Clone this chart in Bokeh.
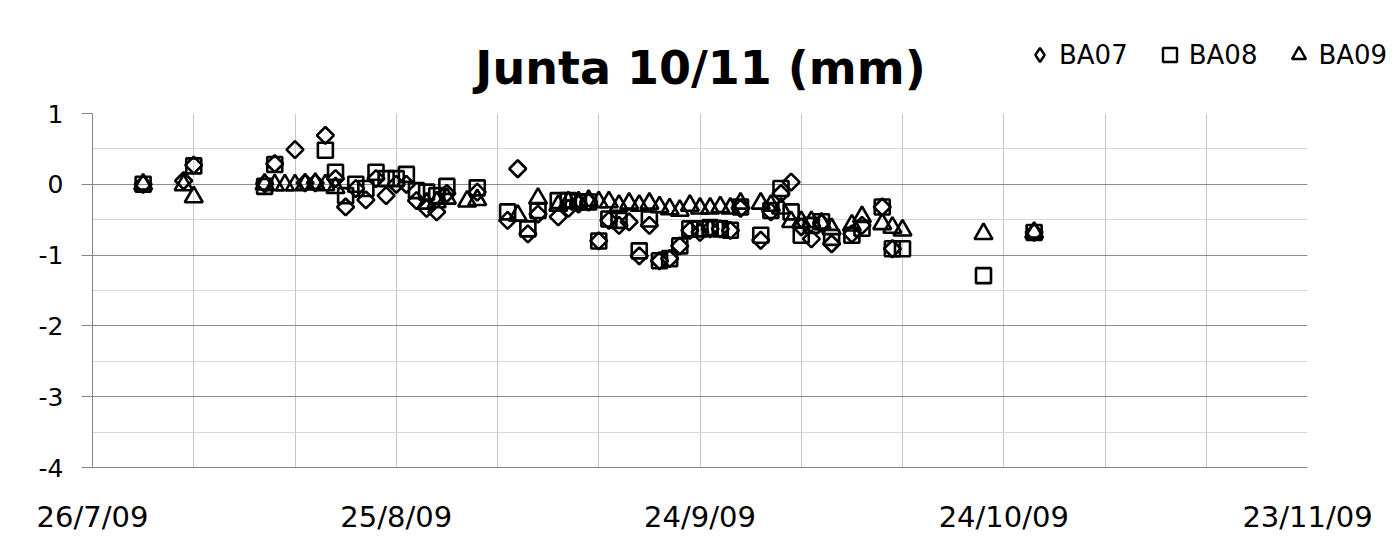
import math
from bokeh.plotting import figure
from bokeh.models import FixedTicker, Legend, LegendItem, ColumnDataSource, Range1d
from bokeh.core.properties import value
from bokeh.embed import file_html
from bokeh.resources import INLINE

# days since 26/7/09
days = [5, 9, 10, 17, 18, 19, 20, 21, 22, 23, 24, 25, 26, 27, 28, 29, 30, 31, 32, 33,
        34, 35, 37, 38, 41, 42, 43, 44, 46, 47, 48, 49, 50, 51, 52, 53, 54, 55, 56, 57,
        58, 59, 60, 61, 62, 63, 64, 66, 67, 68, 69, 70, 71, 72, 73, 75, 76, 78, 79, 80,
        88, 93]
ba07 = [0.0, 0.05, 0.27, 0.01, 0.29, None, 0.49, 0.02, 0.02, 0.69, 0.08, -0.32, -0.06, -0.22, 0.08, -0.16, 0.0, 0.0, -0.23, -0.34,
        -0.39, -0.13, None, -0.11, -0.51, 0.22, -0.70, -0.42, -0.46, -0.34, -0.28, -0.25, -0.80, -0.51, -0.58, -0.53, -1.01, -0.58, -1.08, -1.05,
        -0.87, -0.65, -0.68, -0.63, -0.63, -0.65, -0.34, -0.79, -0.39, -0.13, 0.03, -0.60, -0.77, -0.55, -0.84, -0.70, -0.58, -0.32, -0.91, None,
        None, -0.68]
ba08 = [0.0, None, 0.26, -0.03, 0.28, None, None, None, None, 0.48, 0.17, -0.16, 0.0, -0.06, 0.17, 0.08, 0.08, 0.14, -0.09, -0.11,
        -0.16, -0.03, None, -0.05, -0.39, None, -0.63, -0.37, -0.23, -0.23, -0.25, -0.25, -0.80, -0.49, -0.51, None, -0.94, -0.49, -1.08, -1.05,
        -0.87, -0.63, -0.63, -0.61, -0.63, -0.65, -0.32, -0.72, -0.37, -0.06, -0.39, -0.72, -0.58, -0.53, -0.75, -0.72, -0.62, -0.32, -0.91, -0.91,
        -1.29, -0.68]
ba09 = [0.0, -0.01, -0.18, 0.0, -0.01, -0.01, -0.01, 0.0, 0.01, -0.01, -0.05, None, None, None, None, None, None, None, None, -0.27,
        -0.25, -0.20, -0.24, -0.22, None, -0.44, None, -0.20, -0.30, -0.25, -0.25, -0.23, -0.25, -0.25, -0.30, -0.27, -0.30, -0.27, -0.32, -0.35,
        -0.37, -0.30, -0.34, -0.34, -0.32, -0.34, -0.27, -0.27, -0.30, -0.34, -0.53, -0.53, -0.53, -0.55, -0.63, -0.58, -0.46, -0.56, -0.61, -0.65,
        -0.70, -0.68]

tick_days = [0, 30, 60, 90, 120]
tick_labels = ["26/7/09", "25/8/09", "24/9/09", "24/10/09", "23/11/09"]
y_ticks = [-4, -3, -2, -1, 0, 1]
y_labels = ["-4", "-3", "-2", "-1", "0", "1"]
series_names = ["BA07", "BA08", "BA09"]
title_text = "Junta 10/11 (mm)"

W = 1400
TOP_H = 96
MAIN_H = 446

marker_styles = [dict(marker="square", angle=math.pi / 4, size=12),
                 dict(marker="square", size=15),
                 dict(marker="triangle", size=18)]
legend_markers = ["diamond", "square", "triangle"]


def pts(vals):
    xs = [d for d, v in zip(days, vals) if v is not None]
    ys = [v for v in vals if v is not None]
    return ColumnDataSource(dict(x=xs, y=ys))


series = [ba07, ba08, ba09]

# ---- header (title + legend) ----
top = figure(width=W, height=TOP_H, output_backend="svg", toolbar_location=None,
             x_range=Range1d(0, W), y_range=Range1d(TOP_H, 0),
             x_axis_type=None, y_axis_type=None, min_border=0,
             background_fill_color="white", border_fill_color="white")
top.outline_line_color = None
top.title.visible = False
top.text(x=[W / 2], y=[67], text=[title_text], text_align="center", text_baseline="middle",
         text_font=value("DejaVu Sans"), text_font_style="bold", text_font_size=value("46px"),
         text_color="black")

leg_renderers = []
for vals, mk in zip(series, legend_markers):
    r = top.scatter("x", "y", source=pts(vals), marker=mk, fill_color=None, line_color="black",
                    line_width=2.4, visible=False)
    leg_renderers.append(r)

legend = Legend(items=[LegendItem(label=n, renderers=[r]) for n, r in zip(series_names, leg_renderers)],
                orientation="horizontal", location=(1022, 24),
                label_text_font="DejaVu Sans", label_text_font_size="26px", label_text_color="black",
                glyph_width=35, glyph_height=35, label_standoff=2, spacing=24,
                padding=0, margin=0, border_line_color=None, background_fill_alpha=0)
top.add_layout(legend, "center")

# ---- main chart ----
p = figure(width=W, height=MAIN_H, output_backend="svg", toolbar_location=None,
           x_range=Range1d(0, 120), y_range=Range1d(-4, 1),
           min_border_left=92, min_border_right=93, min_border_top=17, min_border_bottom=75,
           background_fill_color="white", border_fill_color="white")
p.outline_line_color = None
p.title.visible = False

p.xaxis.ticker = FixedTicker(ticks=tick_days, minor_ticks=list(range(0, 121, 10)))
p.xaxis.major_label_overrides = {d: l for d, l in zip(tick_days, tick_labels)}
p.xaxis.major_tick_out = 0
p.xaxis.major_tick_in = 0
p.xaxis.minor_tick_out = 0
p.xaxis.minor_tick_in = 0
p.xaxis.major_label_standoff = 32
p.xaxis.major_label_text_font = "DejaVu Sans"
p.xaxis.major_label_text_font_size = "29px"
p.xaxis.major_label_text_color = "black"
p.xaxis.axis_line_color = "#868686"

p.yaxis.ticker = FixedTicker(ticks=y_ticks, minor_ticks=[-3.5, -2.5, -1.5, -0.5, 0.5])
p.yaxis.major_label_overrides = {t: l for t, l in zip(y_ticks, y_labels)}
p.yaxis.major_tick_out = 11
p.yaxis.major_tick_in = 0
p.yaxis.minor_tick_out = 0
p.yaxis.minor_tick_in = 0
p.yaxis.major_tick_line_color = "#868686"
p.yaxis.major_label_standoff = 18
p.yaxis.major_label_text_font = "DejaVu Sans"
p.yaxis.major_label_text_font_size = "25px"
p.yaxis.major_label_text_color = "black"
p.yaxis.axis_line_color = "#868686"

p.xgrid.grid_line_color = "#c6c6c6"
p.xgrid.minor_grid_line_color = "#c6c6c6"
p.ygrid.grid_line_color = "#8c8c8c"
p.ygrid.minor_grid_line_color = "#d6d6d6"

for vals, st in zip(series, marker_styles):
    p.scatter("x", "y", source=pts(vals), fill_color=None, line_color="black", line_width=2.6, **st)

open("out.html", "w").write(file_html([top, p], INLINE))
